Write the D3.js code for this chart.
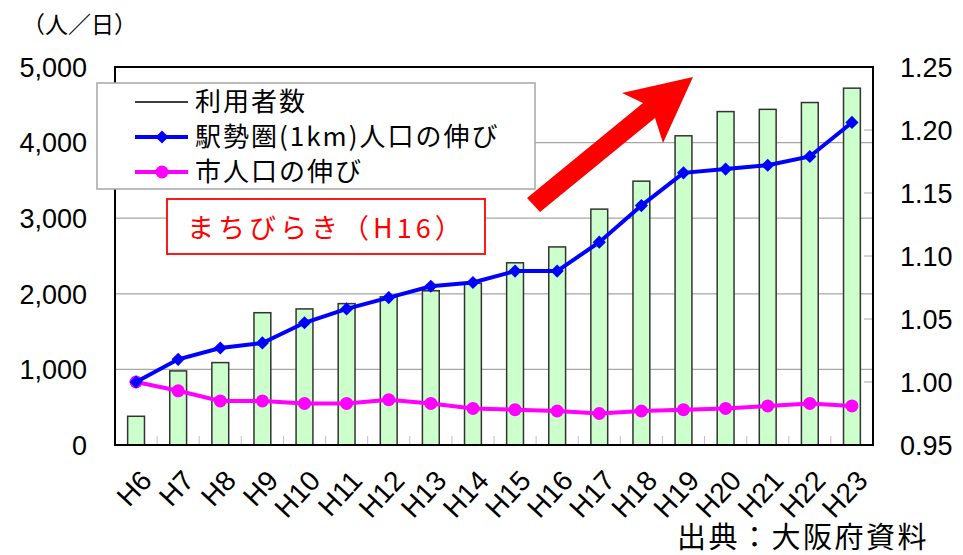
<!DOCTYPE html>
<html>
<head>
<meta charset="utf-8">
<script src="https://cdn.jsdelivr.net/npm/d3@7"></script>
<style>
  body { margin: 0; background: #fff; }
  text { font-family: "Liberation Sans", Arial, sans-serif; }
  .jp { font-family: "Noto Sans CJK JP", sans-serif; }
</style>
</head>
<body>
<svg></svg>
<script>
var width = 963;
var height = 555;

// data
var years = ["H6","H7","H8","H9","H10","H11","H12","H13","H14","H15","H16","H17","H18","H19","H20","H21","H22","H23"];
var users = [380, 980, 1090, 1750, 1800, 1870, 1960, 2040, 2140, 2410, 2620, 3120, 3490, 4090, 4410, 4440, 4530, 4720];
var stationPop = [1.000, 1.018, 1.027, 1.031, 1.047, 1.058, 1.067, 1.076, 1.079, 1.088, 1.088, 1.111, 1.140, 1.166, 1.169, 1.172, 1.179, 1.206];
var cityPop = [1.000, 0.993, 0.985, 0.985, 0.983, 0.983, 0.986, 0.983, 0.979, 0.978, 0.977, 0.975, 0.977, 0.978, 0.979, 0.981, 0.983, 0.981];
var leftTicks = [0, 1000, 2000, 3000, 4000, 5000];
var rightTicks = [0.95, 1.00, 1.05, 1.10, 1.15, 1.20, 1.25];
var legendNames = ["利用者数", "駅勢圏(1km)人口の伸び", "市人口の伸び"];

var margin = {left: 115, right: 90, top: 67, bottom: 110};
var plotW = width - margin.left - margin.right;   // 758
var plotH = height - margin.top - margin.bottom;  // 378

var svg = d3.select("svg")
            .attr("width", width)
            .attr("height", height);

var xScale = d3.scaleBand()
               .domain(years)
               .range([margin.left, margin.left + plotW])
               .paddingInner(0.6)
               .paddingOuter(0.3);

var yScale = d3.scaleLinear()
               .domain([0, 5000])
               .range([margin.top + plotH, margin.top]);

var y2Scale = d3.scaleLinear()
                .domain([0.95, 1.25])
                .range([margin.top + plotH, margin.top]);

var bottom = margin.top + plotH;
var right = margin.left + plotW;

// gridlines
svg.append("g")
   .selectAll("line")
   .data(leftTicks.slice(1, -1))
   .enter()
   .append("line")
   .attr("x1", margin.left)
   .attr("x2", right)
   .attr("y1", function(d) { return yScale(d); })
   .attr("y2", function(d) { return yScale(d); })
   .attr("stroke", "#a6a6a6")
   .attr("stroke-width", 1.2);

// category ticks (inward, light)
svg.append("g")
   .selectAll("line")
   .data(years.slice(1))
   .enter()
   .append("line")
   .attr("x1", function(d) { return xScale(d) - xScale.bandwidth() * 0.75; })
   .attr("x2", function(d) { return xScale(d) - xScale.bandwidth() * 0.75; })
   .attr("y1", bottom)
   .attr("y2", bottom - 9)
   .attr("stroke", "#c0c0c0")
   .attr("stroke-width", 1);

// right axis ticks (inward)
svg.append("g")
   .selectAll("line")
   .data(rightTicks)
   .enter()
   .append("line")
   .attr("x1", right - 9)
   .attr("x2", right)
   .attr("y1", function(d) { return y2Scale(d); })
   .attr("y2", function(d) { return y2Scale(d); })
   .attr("stroke", "#a6a6a6")
   .attr("stroke-width", 1);

// bars
svg.append("g")
   .selectAll("rect")
   .data(users)
   .enter()
   .append("rect")
   .attr("x", function(d, i) { return xScale(years[i]); })
   .attr("y", function(d) { return yScale(d); })
   .attr("width", xScale.bandwidth())
   .attr("height", function(d) { return bottom - yScale(d); })
   .attr("fill", "#ccffcc")
   .attr("stroke", "#333")
   .attr("stroke-width", 1.5);

// plot frame
svg.append("rect")
   .attr("x", margin.left)
   .attr("y", margin.top)
   .attr("width", plotW)
   .attr("height", plotH)
   .attr("fill", "none")
   .attr("stroke", "#000")
   .attr("stroke-width", 2);

var cx = function(i) { return xScale(years[i]) + xScale.bandwidth() / 2; };

// lines
var line = d3.line()
             .x(function(d, i) { return cx(i); })
             .y(function(d) { return y2Scale(d); });

svg.append("path")
   .datum(cityPop)
   .attr("d", line)
   .attr("fill", "none")
   .attr("stroke", "#ff00ff")
   .attr("stroke-width", 4);

svg.append("g")
   .selectAll("circle")
   .data(cityPop)
   .enter()
   .append("circle")
   .attr("cx", function(d, i) { return cx(i); })
   .attr("cy", function(d) { return y2Scale(d); })
   .attr("r", 6.5)
   .attr("fill", "#ff00ff");

svg.append("path")
   .datum(stationPop)
   .attr("d", line)
   .attr("fill", "none")
   .attr("stroke", "#0000ff")
   .attr("stroke-width", 4);

var diamond = d3.symbol().type(d3.symbolDiamond2).size(110);
svg.append("g")
   .selectAll("path")
   .data(stationPop)
   .enter()
   .append("path")
   .attr("d", diamond)
   .attr("transform", function(d, i) { return "translate(" + cx(i) + "," + y2Scale(d) + ")"; })
   .attr("fill", "#0000ff");

// left axis labels
svg.append("g")
   .selectAll("text")
   .data(leftTicks)
   .enter()
   .append("text")
   .attr("x", 87)
   .attr("y", function(d) { return yScale(d); })
   .attr("dy", "0.36em")
   .attr("text-anchor", "end")
   .attr("font-size", 27)
   .text(d3.format(","));

// right axis labels
svg.append("g")
   .selectAll("text")
   .data(rightTicks)
   .enter()
   .append("text")
   .attr("x", 900)
   .attr("y", function(d) { return y2Scale(d); })
   .attr("dy", "0.36em")
   .attr("font-size", 27)
   .text(d3.format(".2f"));

// x labels, rotated
svg.append("g")
   .selectAll("text")
   .data(years)
   .enter()
   .append("text")
   .attr("transform", function(d, i) { return "translate(" + (cx(i) + 10) + "," + (bottom + 30) + ") rotate(-47)"; })
   .attr("text-anchor", "end")
   .attr("dy", "0.36em")
   .attr("font-size", 28)
   .text(function(d) { return d; });

// unit
svg.append("text")
   .attr("class", "jp")
   .attr("x", 22)
   .attr("y", 33)
   .attr("font-size", 23)
   .text("（人／日）");

// source
svg.append("text")
   .attr("class", "jp")
   .attr("x", 929)
   .attr("y", 548)
   .attr("text-anchor", "end")
   .attr("font-size", 29)
   .attr("letter-spacing", 2.5)
   .text("出典：大阪府資料");

// arrow annotation: shaft + head
svg.append("polygon")
   .attr("points", "540,212 527,198 643,103 622,93 693,77 663,143 655,118")
   .attr("fill", "#ff0000");

// legend
var legend = svg.append("g");
legend.append("rect")
      .attr("x", 97)
      .attr("y", 83)
      .attr("width", 438)
      .attr("height", 106)
      .attr("fill", "#fff")
      .attr("stroke", "#a6a6a6")
      .attr("stroke-width", 1.5);

var rowY = [102, 137, 172];
var rowColor = ["#000", "#0000ff", "#ff00ff"];
legend.selectAll("line")
      .data(legendNames)
      .enter()
      .append("line")
      .attr("x1", 135)
      .attr("x2", 188)
      .attr("y1", function(d, i) { return rowY[i]; })
      .attr("y2", function(d, i) { return rowY[i]; })
      .attr("stroke", function(d, i) { return rowColor[i]; })
      .attr("stroke-width", function(d, i) { return i == 0 ? 1.5 : 4; });

legend.append("path")
      .attr("d", diamond)
      .attr("transform", "translate(162," + rowY[1] + ")")
      .attr("fill", "#0000ff");
legend.append("circle")
      .attr("cx", 162)
      .attr("cy", rowY[2])
      .attr("r", 6.5)
      .attr("fill", "#ff00ff");

legend.selectAll("text")
      .data(legendNames)
      .enter()
      .append("text")
      .attr("class", "jp")
      .attr("x", 195)
      .attr("y", function(d, i) { return rowY[i]; })
      .attr("dy", "0.36em")
      .attr("font-size", 26)
      .attr("letter-spacing", 2)
      .text(function(d) { return d; });

// opening annotation
svg.append("rect")
   .attr("x", 167)
   .attr("y", 199)
   .attr("width", 318)
   .attr("height", 55)
   .attr("fill", "#fff")
   .attr("stroke", "#ff0000")
   .attr("stroke-width", 1.8);

svg.append("text")
   .attr("class", "jp")
   .attr("x", 187)
   .attr("y", 228)
   .attr("dy", "0.36em")
   .attr("font-size", 27)
   .attr("letter-spacing", 4)
   .attr("fill", "#ff0000")
   .text("まちびらき（H16）");
</script>
</body>
</html>
